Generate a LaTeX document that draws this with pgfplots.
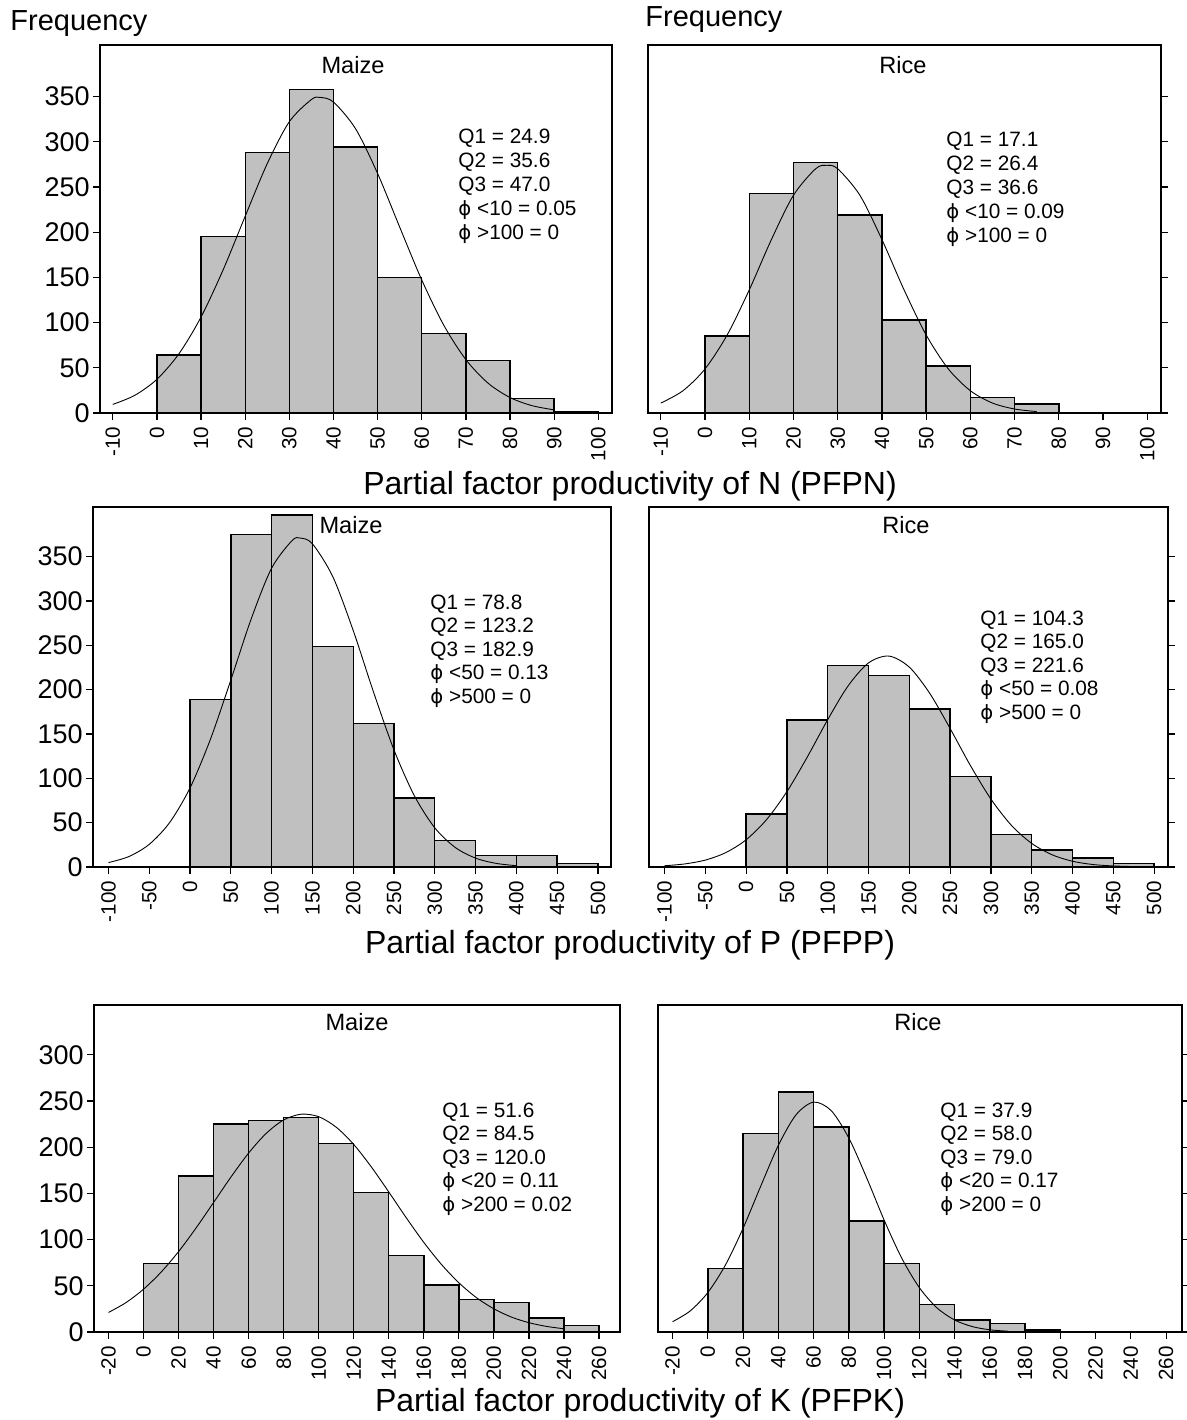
\documentclass[border=0pt]{standalone}
\usepackage{fontspec}
\setmainfont{Liberation Sans}
\newfontfamily\dejavu{DejaVu Sans}
\usepackage{pgfplots}
\pgfplotsset{compat=1.18}
\definecolor{barfill}{HTML}{C0C0C0}
\newcommand{\ph}{{\dejavu\fontsize{9.8}{10}\selectfont ϕ}}
\newcommand{\statfont}{\fontsize{10.4}{12}\selectfont}
\newcommand{\stats}[8]{%
  \begin{scope}[every node/.style={anchor=base west,inner sep=0pt,font=\statfont}]
  \node at ({#1pt},{-#2pt}) {#4};
  \node at ({#1pt},{-#2pt-#3pt}) {#5};
  \node at ({#1pt},{-#2pt-2*#3pt}) {#6};
  \node at ({#1pt},{-#2pt-3*#3pt}) {#7};
  \node at ({#1pt},{-#2pt-4*#3pt}) {#8};
  \end{scope}}
\pgfplotsset{
  hist/.style={
    scale only axis, anchor=north west,
    axis line style={line width=0.75pt},
    tick style={black, line width=0.6pt},
    major tick length=3.5pt,
    tick align=outside,
    xtick pos=left,
    ymin=0,
    x tick label style={rotate=90, anchor=east, font=\fontsize{10.3}{12}\selectfont},
    y tick label style={font=\fontsize{13.5}{15}\selectfont, inner sep=1.5pt},
  },
  maize/.style={hist, ytick pos=left},
  rice/.style={hist, ytick pos=right, yticklabels={}},
  bars/.style={ybar, bar shift=0pt, fill=barfill, draw=black, line width=0.7pt},
  curve/.style={smooth, black, line width=0.45pt, mark=none},
  Nx/.style={xmin=-12.9, xmax=103.1, xtick={-10,0,...,100}, xticklabels={-10,0,10,20,30,40,50,60,70,80,90,100}},
  Px/.style={xmin=-119, xmax=516, xtick={-100,-50,...,500}, xticklabels={-100,-50,0,50,100,150,200,250,300,350,400,450,500}},
  Kx/.style={xmin=-28.3, xmax=270, xtick={-20,0,...,260}, xticklabels={-20,0,20,40,60,80,100,120,140,160,180,200,220,240,260}},
  Y35/.style={ymax=407, ytick={0,50,...,350}},
  Y30/.style={ymax=354, ytick={0,50,...,300}},
}
\begin{document}
\begin{tikzpicture}
\path[use as bounding box] (0,0) rectangle (593.5pt,-710pt);

% ---------- Row 1: PFPN ----------
\begin{axis}[maize, Nx, Y35, at={(50pt,-22.5pt)}, width=256pt, height=184pt,
  yticklabels={0,50,100,150,200,250,300,350}]
\addplot[bars, bar width=10] coordinates {(5,64) (15,195) (25,288) (35,358) (45,294) (55,150) (65,88) (75,58) (85,16) (95,2)};
\addplot[curve] coordinates {(-10,9.5) (-5,19.6) (0,37.3) (5,65.6) (10,106.2) (15,158.4) (20,217.7) (25,275.9) (30,322.2) (35,346.7) (37,349) (40,343.9) (45,314.4) (50,264.8) (55,205.6) (60,147.1) (65,97.0) (70,59.0) (75,33.1) (80,17.1) (85,8.1) (90,3.5)};
\end{axis}

\begin{axis}[rice, Nx, Y35, at={(324pt,-22.5pt)}, width=256.5pt, height=184pt]
\addplot[bars, bar width=10] coordinates {(5,85) (15,243) (25,277) (35,219) (45,103) (55,52) (65,17) (75,10)};
\addplot[curve] coordinates {(-10,11.0) (-5,24.6) (0,48.8) (5,86.3) (10,136.2) (15,191.8) (20,240.9) (25,270.1) (27.5,274) (30,270.1) (35,240.9) (40,191.8) (45,136.2) (50,86.3) (55,48.8) (60,24.6) (65,11.0) (70,4.4) (75,1.6)};
\end{axis}

% ---------- Row 2: PFPP ----------
\begin{axis}[maize, Px, Y35, ymax=406, at={(46.5pt,-253.5pt)}, width=259pt, height=180pt,
  yticklabels={0,50,100,150,200,250,300,350}]
\addplot[bars, bar width=50] coordinates {(25,189) (75,375) (125,397) (175,249) (225,162) (275,78) (325,30) (375,13) (425,13) (475,4)};
\addplot[curve] coordinates {(-100,5.0) (-75,11.8) (-50,25.6) (-25,50.2) (0,89.3) (25,144.2) (50,211.0) (75,280.0) (100,337.1) (125,368.1) (135,371) (150,364.5) (175,327.4) (200,266.7) (225,197.0) (250,132.0) (275,80.3) (300,44.2) (325,22.1) (350,10.0) (375,4.1) (400,1.5)};
\end{axis}

\begin{axis}[rice, Px, Y35, ymax=406, xmax=517, at={(324.5pt,-253.5pt)}, width=259.5pt, height=180pt]
\addplot[bars, bar width=50] coordinates {(25,60) (75,166) (125,227) (175,216) (225,178) (275,102) (325,37) (375,19) (425,10) (475,4)};
\addplot[curve] coordinates {(-100,1.4) (-75,3.5) (-50,7.8) (-25,16.2) (0,30.7) (25,53.4) (50,85.0) (75,124.1) (100,166.2) (125,204.3) (150,230.2) (175,237.9) (200,225.4) (225,195.9) (250,156.2) (275,114.2) (300,76.6) (325,47.1) (350,26.6) (375,13.8) (400,6.5) (425,2.8) (450,1.2) (475,0.5) (500,0.2)};
\end{axis}

% ---------- Row 3: PFPK ----------
\begin{axis}[maize, Kx, Y30, xmax=272, at={(47pt,-502.5pt)}, width=263pt, height=163.5pt,
  yticklabels={0,50,100,150,200,250,300}]
\addplot[bars, bar width=20] coordinates {(10,74) (30,169) (50,225) (70,229) (90,232) (110,204) (130,151) (150,83) (170,51) (190,35) (210,32) (230,15) (250,7)};
\addplot[curve] coordinates {(-20,21.2) (-10,31.9) (0,46.4) (10,64.8) (20,87.1) (30,112.7) (40,140.3) (50,168.1) (60,193.8) (70,215.0) (80,229.6) (90,235.8) (100,233.1) (110,221.7) (120,203.0) (130,178.8) (140,151.6) (150,123.6) (160,97.0) (170,73.3) (180,53.3) (190,37.3) (200,25.1) (210,16.2) (220,10.1) (230,6.1) (240,3.5)};
\end{axis}

\begin{axis}[rice, Kx, Y30, xmax=269, at={(329pt,-502.5pt)}, width=262pt, height=163.5pt]
\addplot[bars, bar width=20] coordinates {(10,69) (30,215) (50,260) (70,222) (90,120) (110,74) (130,30) (150,13) (170,9) (190,2)};
\addplot[curve] coordinates {(-20,11.2) (-10,22.9) (0,42.8) (10,72.7) (20,112.4) (30,158.0) (40,202.1) (50,235.1) (60,248.9) (70,239.6) (80,209.9) (90,167.3) (100,121.2) (110,79.9) (120,48.0) (130,26.1) (140,13.0) (150,5.9) (160,2.4) (170,0.9)};
\end{axis}

% ---------- Texts ----------
\node[anchor=west, inner sep=0pt, font=\fontsize{14.5}{16}\selectfont] at (5pt,-12pt) {Frequency};
\node[anchor=west, inner sep=0pt, font=\fontsize{14.5}{16}\selectfont] at (322.5pt,-10pt) {Frequency};

\begin{scope}[every node/.style={anchor=base, inner sep=0pt, font=\fontsize{11.8}{14}\selectfont}]
\node at (176.5pt,-36.6pt) {Maize};
\node at (451.5pt,-36.6pt) {Rice};
\node at (175.5pt,-266.6pt) {Maize};
\node at (453pt,-266.6pt) {Rice};
\node at (178.5pt,-515.1pt) {Maize};
\node at (459pt,-515.1pt) {Rice};
\end{scope}

\stats{229}{71.6}{12}{Q1 = 24.9}{Q2 = 35.6}{Q3 = 47.0}{\ph{} <10 = 0.05}{\ph{} >100 = 0}
\stats{473}{73.1}{12}{Q1 = 17.1}{Q2 = 26.4}{Q3 = 36.6}{\ph{} <10 = 0.09}{\ph{} >100 = 0}
\stats{215}{304.6}{11.75}{Q1 = 78.8}{Q2 = 123.2}{Q3 = 182.9}{\ph{} <50 = 0.13}{\ph{} >500 = 0}
\stats{490}{312.6}{11.75}{Q1 = 104.3}{Q2 = 165.0}{Q3 = 221.6}{\ph{} <50 = 0.08}{\ph{} >500 = 0}
\stats{221}{558.6}{11.75}{Q1 = 51.6}{Q2 = 84.5}{Q3 = 120.0}{\ph{} <20 = 0.11}{\ph{} >200 = 0.02}
\stats{470}{558.6}{11.75}{Q1 = 37.9}{Q2 = 58.0}{Q3 = 79.0}{\ph{} <20 = 0.17}{\ph{} >200 = 0}

\begin{scope}[every node/.style={anchor=center, inner sep=0pt, font=\fontsize{16}{18}\selectfont}]
\node at (315pt,-243pt) {Partial factor productivity of N (PFPN)};
\node at (315pt,-472.5pt) {Partial factor productivity of P (PFPP)};
\node at (320pt,-701.5pt) {Partial factor productivity of K (PFPK)};
\end{scope}
\end{tikzpicture}
\end{document}
